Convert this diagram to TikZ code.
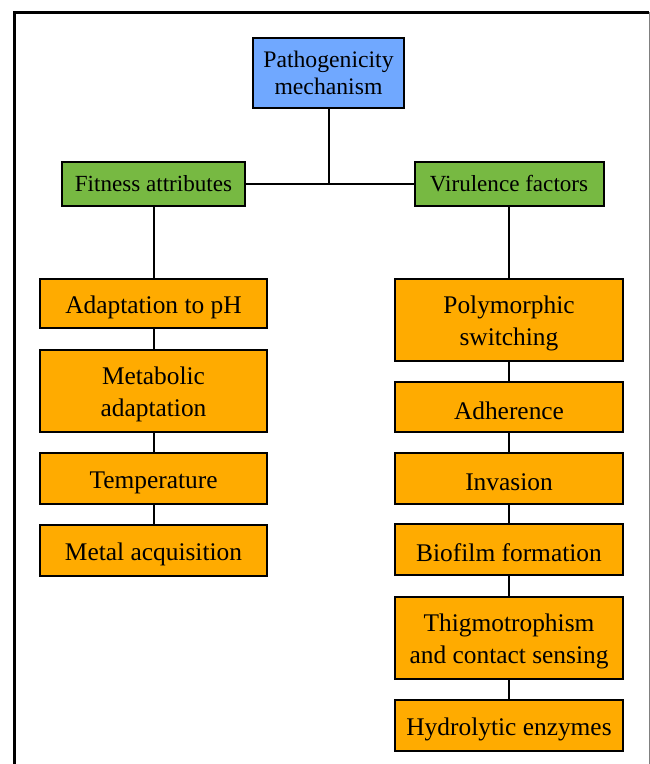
\documentclass[tikz,border=0pt]{standalone}
\usepackage{fontspec}
\setmainfont{Liberation Serif}
\definecolor{pblue}{RGB}{112,168,255}
\definecolor{pgreen}{RGB}{119,185,66}
\definecolor{porange}{RGB}{255,171,0}
\newcommand{\tallstrut}{\rule{0pt}{24pt}}
\begin{document}
\begin{tikzpicture}[x=1pt,y=-1pt,
  box/.style={draw=black,line width=2pt,align=center,inner sep=0pt},
  topbox/.style={box,fill=pblue,font=\fontsize{23.7}{26.5}\selectfont},
  midbox/.style={box,fill=pgreen,font=\fontsize{23.1}{26}\selectfont,minimum height=44pt},
  itembox/.style={box,fill=porange,font=\fontsize{25.4}{31.7}\selectfont,minimum width=227pt,
    execute at begin node={\rule{0pt}{25pt}}},
  twobox/.style={box,fill=porange,font=\fontsize{25.4}{31.7}\selectfont,minimum width=227pt,
    minimum height=82pt},
  link/.style={draw=black,line width=2pt}]
\useasboundingbox (0,0) rectangle (650,764);
\fill[white] (0,0) rectangle (650,764);
\draw[line width=3pt] (14.5,770) -- (14.5,12) -- (649,12);
\draw[line width=1pt,gray] (649,12) -- (649,770);

\node[topbox,minimum width=151pt,minimum height=70pt] (P) at (328.5,73) {Pathogenicity\\mechanism};
\node[midbox,minimum width=183pt] (F) at (153.5,184) {Fitness attributes};
\node[midbox,minimum width=189pt] (V) at (509,184) {Virulence factors};

\node[itembox,minimum height=49pt] (L1) at (153.5,303.5) {Adaptation to pH};
\node[twobox] (L2) at (153.5,391) {\tallstrut Metabolic\\adaptation};
\node[itembox,minimum height=51pt] (L3) at (153.5,478.5) {Temperature};
\node[itembox,minimum height=51pt] (L4) at (153.5,550.5) {Metal acquisition};

\node[twobox,minimum width=228pt] (R1) at (509,320) {\tallstrut Polymorphic\\switching};
\node[itembox,minimum width=228pt,minimum height=50pt] (R2) at (509,407) {Adherence};
\node[itembox,minimum width=228pt,minimum height=51pt] (R3) at (509,478.5) {Invasion};
\node[itembox,minimum width=228pt,minimum height=51pt] (R4) at (509,549.5) {Biofilm formation};
\node[twobox,minimum width=228pt] (R5) at (509,638) {\tallstrut Thigmotrophism\\and contact sensing};
\node[itembox,minimum width=228pt,minimum height=51pt] (R6) at (509,725.5) {Hydrolytic enzymes};

\draw[link] (P.south) -- (P.south |- F.east);
\draw[link] (F.east) -- (V.west);
\draw[link] (F.south) -- (L1.north);
\draw[link] (L1.south) -- (L2.north);
\draw[link] (L2.south) -- (L3.north);
\draw[link] (L3.south) -- (L4.north);
\draw[link] (V.south) -- (R1.north);
\draw[link] (R1.south) -- (R2.north);
\draw[link] (R2.south) -- (R3.north);
\draw[link] (R3.south) -- (R4.north);
\draw[link] (R4.south) -- (R5.north);
\draw[link] (R5.south) -- (R6.north);
\end{tikzpicture}
\end{document}
